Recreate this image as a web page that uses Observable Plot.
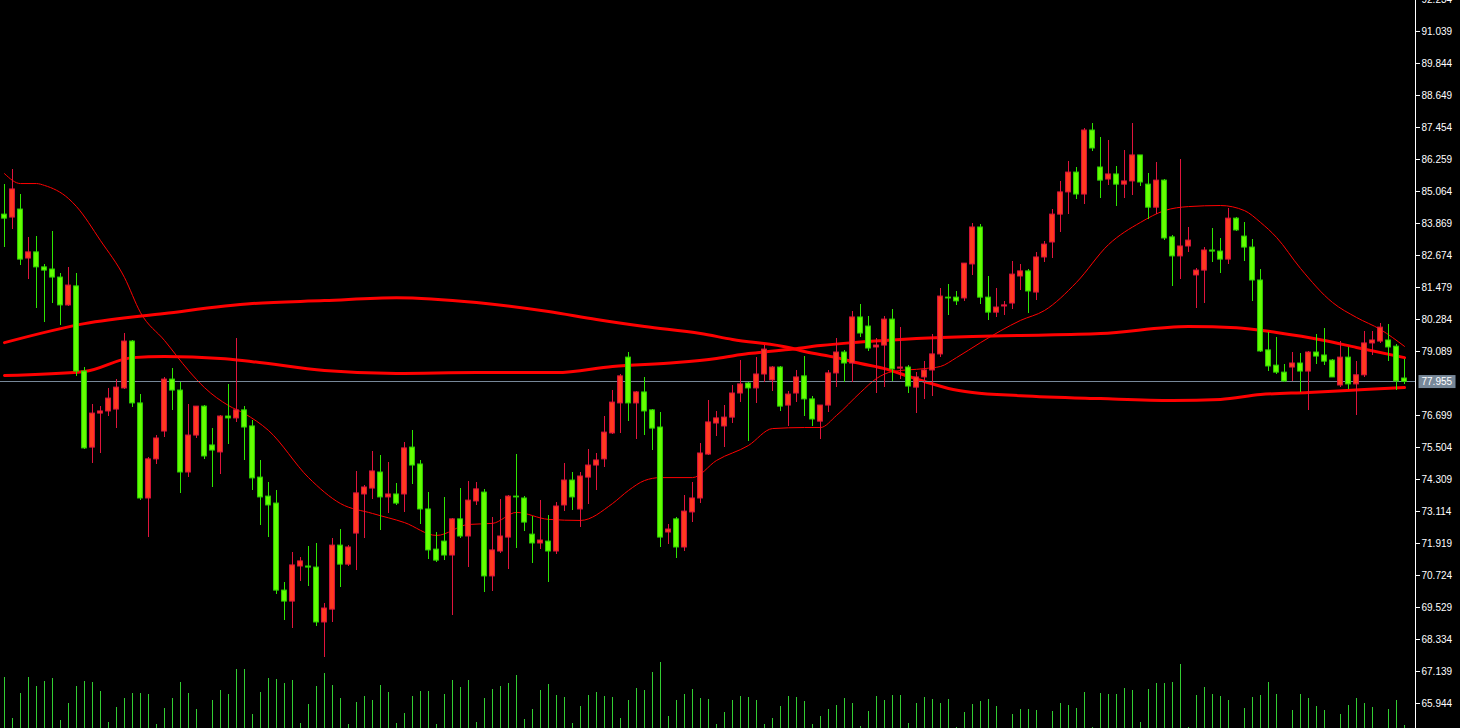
<!DOCTYPE html>
<html>
<head>
<meta charset="utf-8">
<script src="https://cdn.jsdelivr.net/npm/d3@7"></script>
<script src="https://cdn.jsdelivr.net/npm/@observablehq/plot@0.6"></script>
<style>
html, body { margin: 0; padding: 0; background: #000; overflow: hidden; }
#chart { position: relative; width: 1460px; height: 728px; background: #000; }
#chart svg { position: absolute; left: 0; overflow: visible; }
#main { top: 0; }
#vol { bottom: 0; }
</style>
</head>
<body>
<div id="chart"></div>
<script>
// ---- candle data (index order, oldest first) ----
const opens = [84.20,84.09,84.39,82.56,82.79,82.23,82.15,81.85,80.81,81.52,78.34,75.50,76.77,76.85,76.92,77.71,79.46,77.15,73.60,75.06,
76.10,78.04,77.63,74.57,75.95,77.03,75.58,75.32,76.66,76.59,76.89,76.29,74.38,73.67,73.41,70.16,69.75,71.06,71.06,71.02,
68.97,69.45,71.84,71.13,72.29,73.75,73.97,74.57,73.64,73.75,73.75,75.50,74.87,73.19,71.69,71.99,71.47,72.82,72.18,73.49,
73.82,70.69,71.62,72.14,73.67,73.60,72.25,71.92,71.99,71.62,73.34,74.27,73.19,74.38,74.83,75.06,76.03,77.15,78.86,77.15,
77.56,76.89,76.25,72.33,72.82,71.77,73.08,73.60,75.24,76.40,76.29,76.62,77.52,77.89,77.71,78.23,78.01,78.49,77.07,77.52,
78.16,77.30,76.47,77.07,78.27,79.05,78.64,80.36,80.02,79.24,79.31,80.28,78.45,78.49,77.74,78.12,78.38,78.98,81.10,81.10,
81.07,82.34,83.72,81.10,80.54,80.77,80.88,81.89,82.08,81.29,82.60,83.16,84.20,85.03,85.77,84.95,87.34,85.96,85.51,85.70,
85.32,85.44,86.41,85.32,84.46,85.47,83.35,82.64,83.01,81.93,82.11,82.86,82.82,82.52,84.05,83.38,82.97,81.74,79.13,78.56,
78.30,78.49,78.64,78.34,79.05,78.94,78.75,77.82,78.86,77.86,78.20,79.39,79.46,79.50,79.27,78.08];
const highs = [85.32,85.88,84.95,83.35,83.38,82.34,83.57,82.00,82.23,82.00,78.49,77.11,77.03,77.71,78.04,79.76,79.50,77.48,75.13,75.95,
78.12,78.45,77.93,77.11,77.03,77.07,76.21,76.70,77.86,79.57,77.03,76.51,75.02,74.20,73.90,70.46,71.58,71.40,71.81,71.92,
69.68,72.11,72.44,71.84,74.61,74.09,75.35,75.21,74.94,74.16,75.69,76.14,75.02,73.82,72.33,73.64,72.85,73.97,74.23,74.20,
73.94,72.89,73.56,73.71,75.24,73.67,72.92,73.52,72.96,73.45,74.91,74.57,74.57,75.43,75.28,76.66,77.63,78.23,79.05,77.59,
78.12,76.92,76.81,72.63,72.89,73.71,74.20,75.65,77.26,76.85,77.07,77.82,78.75,77.93,78.86,79.31,78.53,78.53,77.59,78.38,
78.90,77.41,77.07,78.38,79.57,79.13,80.58,80.84,80.40,79.57,80.40,80.66,79.98,78.56,78.30,78.71,79.72,81.44,81.59,81.33,
82.37,83.87,83.83,81.89,81.44,80.96,82.45,82.34,82.15,82.79,83.19,84.39,85.44,86.18,85.96,87.41,87.60,87.08,86.97,86.00,
86.59,87.60,86.41,85.73,86.14,85.51,83.42,86.26,83.72,82.19,82.97,83.68,83.31,84.43,84.09,83.91,83.27,82.15,79.80,79.61,
78.60,79.05,79.01,79.09,79.72,79.95,78.79,79.46,79.24,78.71,79.84,79.84,80.13,80.09,79.35,78.79];
const lows = [82.97,83.64,82.30,81.78,80.69,80.17,80.88,80.06,80.77,78.16,75.43,74.91,75.28,76.66,76.21,77.67,77.00,73.52,72.14,74.87,
75.88,76.89,73.79,74.38,75.84,75.06,74.01,74.50,75.62,76.44,75.02,73.90,72.59,72.14,70.01,69.04,68.74,70.50,70.31,68.82,
67.66,68.97,70.28,71.06,70.91,72.11,73.56,72.40,73.04,73.34,73.08,74.12,72.63,71.32,71.21,71.28,69.23,72.11,71.02,73.34,
70.09,70.13,71.55,70.95,71.73,72.37,71.17,71.69,70.46,71.51,73.11,73.15,72.52,73.38,73.90,74.76,75.99,76.03,76.47,75.80,
75.95,75.39,71.77,71.88,71.36,71.62,72.70,73.41,75.21,75.91,75.50,76.40,77.18,75.73,77.15,77.93,77.59,76.85,76.29,77.18,
76.66,76.29,75.80,76.81,77.74,77.93,77.93,79.61,79.09,77.52,77.74,77.97,78.04,77.52,76.77,77.30,77.41,78.86,80.43,80.81,
80.96,81.93,80.84,80.25,80.36,80.43,80.66,81.37,80.51,80.99,82.41,82.56,83.53,84.20,84.76,84.58,86.56,84.80,85.29,84.50,
84.80,84.91,85.25,84.02,84.20,83.23,81.52,81.78,82.79,80.69,80.88,82.41,82.00,82.34,83.57,82.45,80.96,79.05,78.34,78.23,
77.93,77.97,77.56,76.89,78.60,78.56,78.12,77.74,77.67,76.70,78.12,78.94,79.39,78.71,77.63,77.86];
const closes = [84.05,85.14,82.52,82.79,82.23,82.11,81.85,80.81,81.55,78.34,75.47,76.77,76.85,77.33,77.74,79.46,77.15,73.60,75.06,75.84,
78.04,77.63,74.57,75.95,77.03,75.17,75.39,76.66,76.59,76.89,76.25,74.35,73.64,73.34,70.16,69.75,71.10,71.25,71.02,68.97,
69.49,71.84,71.13,71.77,73.79,74.01,74.61,73.64,73.75,73.41,75.47,74.83,73.19,71.66,71.28,71.47,72.82,72.18,73.52,73.94,
70.69,71.66,72.18,73.67,73.64,72.70,71.92,72.03,71.62,73.30,74.27,73.64,74.42,74.83,75.02,76.06,77.18,78.16,77.15,77.56,
76.85,76.21,72.14,72.44,71.77,73.11,73.60,75.28,76.44,76.59,76.62,77.52,77.86,77.71,78.23,79.16,78.49,77.03,77.48,78.12,
77.30,76.55,77.07,78.27,79.05,78.64,80.36,79.76,79.20,79.31,80.28,78.42,78.49,77.78,78.12,78.38,78.98,81.14,81.07,80.96,
82.37,83.72,81.10,80.54,80.73,80.81,81.96,82.08,81.33,82.60,83.08,84.20,85.03,85.77,84.95,87.34,86.67,85.47,85.70,85.32,
85.44,86.41,85.40,84.46,85.47,83.31,82.64,83.01,83.23,82.11,82.86,82.82,82.52,84.05,83.61,82.97,81.74,79.09,78.53,78.30,
77.97,78.64,78.34,79.05,78.90,78.71,78.12,78.86,77.86,78.20,79.39,79.50,79.98,79.24,77.97,77.955];
const volumes = [51,10,35,51,42,47,50,8,25,42,47,46,37,6,21,30,35,35,34,4,
20,30,46,35,19,0,28,38,34,59,59,14,36,50,49,45,48,5,24,42,
55,43,30,4,26,32,28,43,36,5,15,32,37,37,4,34,48,41,48,6,
30,39,42,45,53,9,19,38,44,33,31,5,22,33,36,32,31,10,28,40,
38,56,66,12,28,34,39,30,29,4,16,28,32,31,28,4,10,22,32,31,
27,4,12,19,23,30,25,2,17,32,28,33,33,5,25,31,29,25,29,1,
16,24,27,29,22,0,14,19,19,18,0,17,25,23,20,36,1,35,34,34,
40,38,6,39,45,45,46,64,1,33,41,34,32,28,0,20,31,33,46,34,
0,18,34,30,22,18,0,14,23,30,25,21,0,19,28,3];

// ---- moving averages (candle index, price) ----
const fastMaIdx = [0,2,4,5,8,9,12,15,17,20,23,25,28,30,33,38,42,46,50,54,58,61,64,68,72,76,78,80,82,86,89,93,96,100,102,104,107,109,111,115,117,119,122,127,130,134,138,142,145,148,152,155,157,159,162,166,169,172,175];
const fastMaVal = [85.73,85.36,85.36,85.29,84.80,84.50,83.23,81.85,80.54,79.50,78.38,77.74,77.07,76.77,76.14,74.38,73.41,73.04,72.70,72.22,72.63,72.67,73.08,72.82,72.78,73.41,73.90,74.27,74.38,74.38,75.02,75.58,76.21,76.25,76.25,76.70,77.56,78.08,78.34,78.45,78.53,78.86,79.42,80.25,80.62,81.67,83.08,83.91,84.35,84.50,84.54,84.35,83.91,83.35,82.19,80.92,80.36,79.91,79.28];
const slowMaIdx = [0,10,20,31,40,49,59,68,74,80,87,91,98,100,104,107,110,113,115,118,121,127,137,146,152,157,163,170,175];
const slowMaVal = [79.42,80.13,80.51,80.88,80.99,81.10,80.92,80.58,80.28,80.02,79.76,79.54,79.24,79.09,78.86,78.64,78.45,78.16,77.97,77.71,77.56,77.44,77.33,77.26,77.30,77.48,77.56,77.67,77.74];
const midMaIdx = [0,10,16,20,27,31,40,49,59,69,76,84,89,93,98,102,106,110,114,121,127,137,148,154,159,165,169,175];
const midMaVal = [78.19,78.34,78.86,78.90,78.83,78.71,78.38,78.27,78.30,78.30,78.53,78.68,78.83,79.01,79.16,79.31,79.42,79.50,79.57,79.65,79.69,79.76,80.02,79.98,79.80,79.50,79.24,78.86];

// ---- price axis tick labels ----
const priceTicks = [65.944,67.139,68.334,69.529,70.724,71.919,73.114,74.309,75.504,76.699,79.089,80.284,81.479,82.674,83.869,85.064,86.259,87.454,88.649,89.844,91.039,92.234];

// ---- build tables ----
const n = closes.length;
const candles = closes.map((c, i) => ({i, open: opens[i], high: highs[i], low: lows[i], close: c, vol: volumes[i], up: c >= opens[i]}));
const upC = candles.filter(d => d.up);
const dnC = candles.filter(d => !d.up);
const toLine = (idx, val) => idx.map((i, k) => ({i, v: val[k]}));
const fastMa = toLine(fastMaIdx, fastMaVal);
const slowMa = toLine(slowMaIdx, slowMaVal);
const midMa = toLine(midMaIdx, midMaVal);
const lastPrice = closes[n - 1];

const xDomain = [-0.5, n + 0.375];
const half = 0.3;

const RED_FILL = "#ff3a1e", RED_LINE = "#e0143c";
const GRN_FILL = "#66ff00", GRN_LINE = "#2fd400", GRN_WICK = "#2ee600";
const MA = "#ff0000";
const SLATE = "#778899";

const main = Plot.plot({
  width: 1460, height: 728,
  marginLeft: 0, marginRight: 45, marginTop: 0, marginBottom: 0,
  style: {background: "#000", color: "#fff", fontFamily: "'Liberation Sans', Arial, sans-serif", fontSize: "10px"},
  x: {domain: xDomain, axis: null},
  y: {domain: [65.0105, 92.196], axis: null},
  marks: [
    Plot.line(slowMa, {x: "i", y: "v", stroke: MA, strokeWidth: 3, curve: "monotone-x"}),
    Plot.line(midMa, {x: "i", y: "v", stroke: MA, strokeWidth: 3, curve: "monotone-x"}),
    Plot.line(fastMa, {x: "i", y: "v", stroke: MA, strokeWidth: 1, curve: "monotone-x"}),
    Plot.ruleY([lastPrice], {stroke: SLATE, strokeWidth: 1, shapeRendering: "crispEdges"}),
    Plot.ruleX(upC, {x: "i", y1: "low", y2: "high", stroke: RED_LINE, strokeWidth: 1, shapeRendering: "crispEdges"}),
    Plot.ruleX(dnC, {x: "i", y1: "low", y2: "high", stroke: GRN_WICK, strokeWidth: 1, shapeRendering: "crispEdges"}),
    Plot.rect(upC, {x1: d => d.i - half, x2: d => d.i + half, y1: "open", y2: "close", fill: RED_FILL, stroke: RED_LINE, strokeWidth: 1}),
    Plot.rect(dnC, {x1: d => d.i - half, x2: d => d.i + half, y1: "open", y2: "close", fill: GRN_FILL, stroke: GRN_LINE, strokeWidth: 1}),
    Plot.axisY({anchor: "right", ticks: priceTicks, tickFormat: d3.format(".3f"), tickSize: 4, tickPadding: 2, color: "#fff", fill: "#fff"}),
    Plot.frame({anchor: "right", stroke: "#fff"}),
    Plot.text([lastPrice], {y: d => d, frameAnchor: "right", dx: 6, textAnchor: "start", text: d => d3.format(".3f")(d), fill: "#fff", className: "pricetag"})
  ]
});
main.id = "main";

const vol = Plot.plot({
  width: 1460, height: 70,
  marginLeft: 0, marginRight: 45, marginTop: 0, marginBottom: 0,
  style: {background: "transparent"},
  x: {domain: xDomain, axis: null},
  y: {domain: [0, 70], axis: null},
  marks: [
    Plot.ruleX(candles, {x: "i", y1: 0, y2: "vol", stroke: "#32cd32", strokeWidth: 1, shapeRendering: "crispEdges"})
  ]
});
vol.id = "vol";

const chart = document.getElementById("chart");
chart.appendChild(main);
chart.appendChild(vol);

// background box behind the current-price label
d3.select(main).selectAll("g.pricetag text").each(function () {
  const bb = this.getBBox();
  d3.select(this.parentNode).insert("rect", "text")
    .attr("transform", this.getAttribute("transform"))
    .attr("x", bb.x - 3).attr("y", bb.y - 1)
    .attr("width", bb.width + 6).attr("height", bb.height + 2)
    .attr("fill", SLATE);
});
</script>
</body>
</html>
